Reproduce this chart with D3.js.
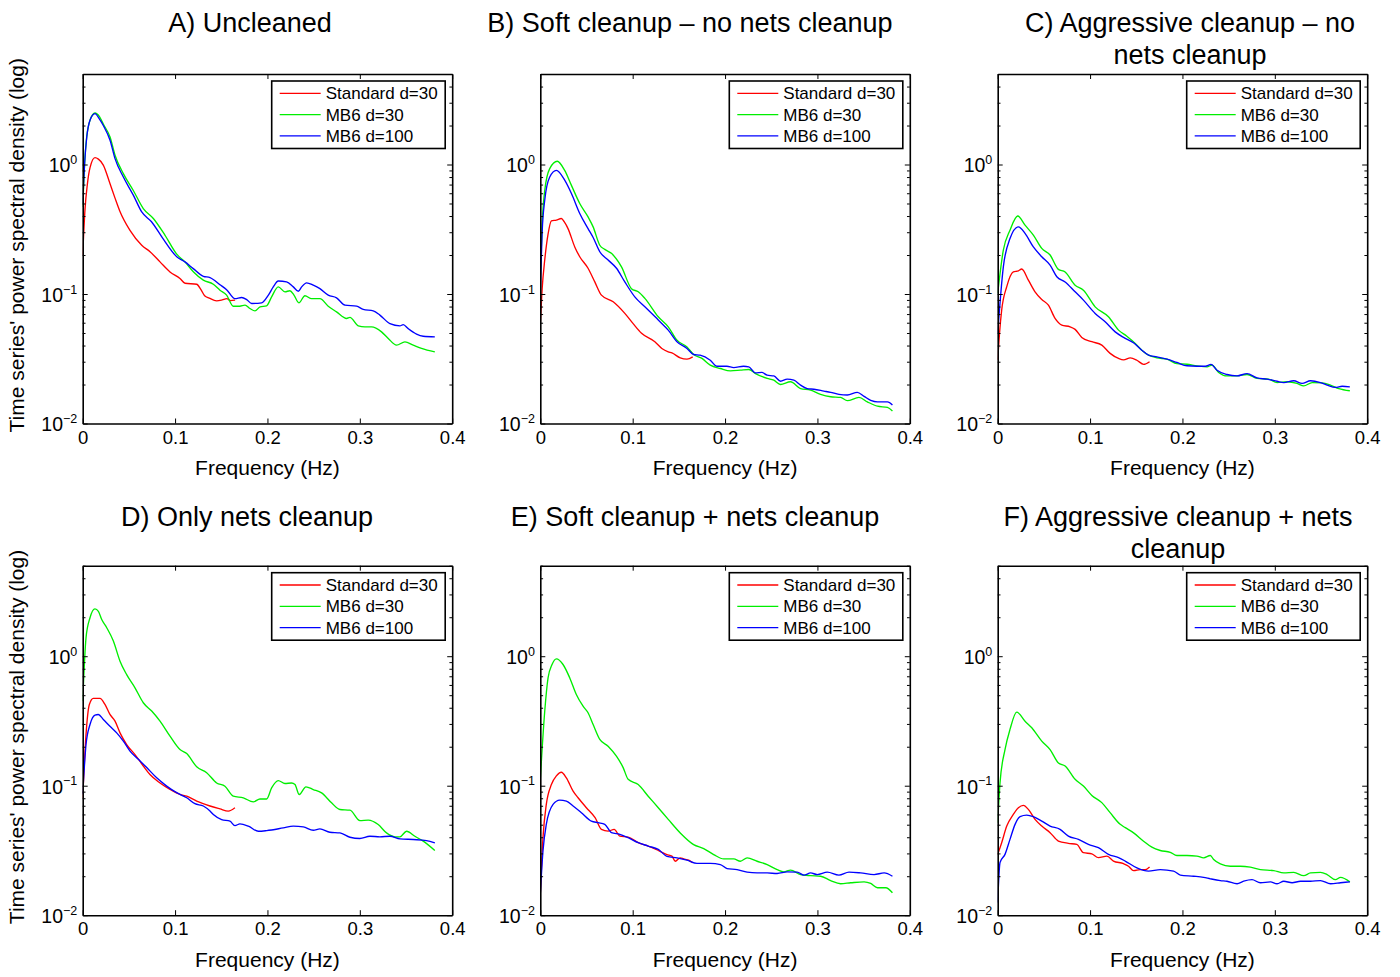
<!DOCTYPE html>
<html><head><meta charset="utf-8">
<script src="https://cdn.jsdelivr.net/npm/d3@7"></script>
<style>
body{margin:0;background:#fff}
svg{display:block}
text{font-family:"Liberation Sans",Arial,Helvetica,sans-serif;fill:#000}
</style>
</head><body>
<svg id="chart" width="1400" height="977"></svg>
<script>
// ---------------- DATA (frequency in Hz, PSD value) ----------------
const seriesNames = ["Standard d=30", "MB6 d=30", "MB6 d=100"];
const panelTitles = [
  ["A) Uncleaned"],
  ["B) Soft cleanup \u2013 no nets cleanup"],
  ["C) Aggressive cleanup \u2013 no", "nets cleanup"],
  ["D) Only nets cleanup"],
  ["E) Soft cleanup + nets cleanup"],
  ["F) Aggressive cleanup + nets", "cleanup"]
];
const xTickValues = [0, 0.1, 0.2, 0.3, 0.4];
const yTickExponents = [-2, -1, 0];
const xLabel = "Frequency (Hz)";
const yLabel = "Time series' power spectral density (log)";

const A_std = [[0,0.2],[0.0025,0.45],[0.005,0.7],[0.008,0.95],[0.0133,1.13],[0.017,1.1],[0.0223,0.99],[0.0296,0.71],[0.035,0.55],[0.04,0.44],[0.0512,0.31],[0.0639,0.238],[0.0729,0.212],[0.0837,0.177],[0.0945,0.148],[0.1053,0.132],[0.1108,0.121],[0.1234,0.119],[0.128,0.108],[0.132,0.097],[0.137,0.093],[0.145,0.0886],[0.151,0.09],[0.156,0.092],[0.16,0.089],[0.165,0.0896]];
const A_mb30 = [[0,0.47],[0.002,1.0],[0.0036,1.45],[0.0079,2.2],[0.0133,2.5],[0.018,2.35],[0.0223,2.05],[0.0296,1.63],[0.035,1.18],[0.044,0.85],[0.0548,0.63],[0.0656,0.457],[0.0765,0.383],[0.089,0.285],[0.1018,0.203],[0.1107,0.177],[0.12,0.148],[0.1306,0.128],[0.1414,0.119],[0.1486,0.107],[0.1558,0.098],[0.163,0.0805],[0.17,0.0805],[0.1757,0.082],[0.181,0.0773],[0.1865,0.074],[0.192,0.0795],[0.199,0.081],[0.2045,0.095],[0.2117,0.1135],[0.219,0.104],[0.2243,0.106],[0.2287,0.098],[0.234,0.0855],[0.2406,0.097],[0.2478,0.092],[0.2568,0.092],[0.2658,0.0805],[0.2748,0.0728],[0.2857,0.0647],[0.2893,0.066],[0.2983,0.0568],[0.3055,0.0557],[0.3127,0.0557],[0.3235,0.051],[0.3308,0.0453],[0.3398,0.0403],[0.3488,0.0427],[0.3578,0.0403],[0.3668,0.038],[0.3812,0.0357]];
const A_mb100 = [[0,0.5],[0.002,1.0],[0.0044,1.63],[0.0079,2.2],[0.0133,2.47],[0.018,2.25],[0.0223,2.0],[0.0296,1.54],[0.035,1.11],[0.044,0.8],[0.0548,0.58],[0.0639,0.43],[0.0747,0.36],[0.0873,0.265],[0.1018,0.194],[0.1107,0.177],[0.1197,0.157],[0.1306,0.137],[0.1378,0.134],[0.1486,0.118],[0.1558,0.108],[0.1648,0.092],[0.172,0.094],[0.1775,0.0906],[0.183,0.0845],[0.1937,0.0855],[0.201,0.098],[0.2063,0.1135],[0.2117,0.126],[0.2207,0.124],[0.228,0.1135],[0.2334,0.105],[0.237,0.1135],[0.2424,0.122],[0.2496,0.117],[0.2568,0.11],[0.2658,0.098],[0.2748,0.0934],[0.2839,0.082],[0.2965,0.0805],[0.3037,0.076],[0.3145,0.074],[0.3217,0.0687],[0.3326,0.059],[0.3434,0.0568],[0.347,0.058],[0.3524,0.054],[0.3614,0.049],[0.3686,0.0472],[0.3812,0.0467]];

const B_std = [[0,0.059],[0.002,0.11],[0.0048,0.183],[0.0084,0.29],[0.012,0.367],[0.0174,0.372],[0.0228,0.383],[0.026,0.36],[0.03,0.32],[0.0373,0.231],[0.0427,0.194],[0.0517,0.158],[0.059,0.124],[0.0662,0.098],[0.0789,0.087],[0.0915,0.0708],[0.1005,0.059],[0.1096,0.0497],[0.124,0.0428],[0.1316,0.038],[0.1385,0.0358],[0.1425,0.0351],[0.1515,0.0321],[0.1588,0.0314],[0.165,0.0327]];
const B_mb30 = [[0,0.135],[0.002,0.35],[0.0048,0.63],[0.0102,0.93],[0.0184,1.06],[0.0264,0.9],[0.0337,0.69],[0.0427,0.5],[0.0517,0.394],[0.0572,0.33],[0.0644,0.238],[0.0698,0.221],[0.077,0.206],[0.0879,0.162],[0.0987,0.11],[0.106,0.104],[0.1132,0.0925],[0.1277,0.0667],[0.1385,0.0558],[0.148,0.044],[0.1588,0.039],[0.166,0.0341],[0.175,0.0318],[0.184,0.0282],[0.195,0.0266],[0.2058,0.0255],[0.2166,0.0258],[0.2257,0.0261],[0.233,0.0243],[0.2456,0.0223],[0.2528,0.0216],[0.26,0.02],[0.2709,0.021],[0.2817,0.0186],[0.2926,0.0181],[0.3034,0.0168],[0.3143,0.0161],[0.3251,0.0159],[0.3324,0.015],[0.345,0.0159],[0.354,0.0147],[0.365,0.0136],[0.3758,0.0133],[0.3812,0.0125]];
const B_mb100 = [[0,0.107],[0.002,0.3],[0.0048,0.53],[0.0102,0.8],[0.0174,0.9],[0.0264,0.757],[0.0337,0.597],[0.0427,0.419],[0.0517,0.32],[0.0572,0.273],[0.0644,0.212],[0.0734,0.183],[0.0825,0.158],[0.0915,0.124],[0.1023,0.095],[0.1132,0.0796],[0.1277,0.063],[0.1385,0.0526],[0.148,0.0428],[0.1588,0.038],[0.166,0.0341],[0.173,0.0337],[0.184,0.0308],[0.191,0.0277],[0.202,0.0277],[0.2094,0.027],[0.22,0.0277],[0.2257,0.0274],[0.233,0.0246],[0.24,0.0248],[0.2456,0.0236],[0.2528,0.0233],[0.26,0.0212],[0.2673,0.022],[0.2745,0.0216],[0.2817,0.0198],[0.289,0.0186],[0.2962,0.0184],[0.307,0.0178],[0.3143,0.0174],[0.3233,0.0168],[0.3324,0.0166],[0.3432,0.0174],[0.3505,0.0162],[0.3577,0.0151],[0.365,0.0147],[0.3758,0.0147],[0.3812,0.0139]];

const C_std = [[0,0.031],[0.002,0.05],[0.0043,0.075],[0.0098,0.114],[0.0169,0.148],[0.0224,0.151],[0.026,0.156],[0.0332,0.128],[0.0404,0.104],[0.0477,0.0908],[0.0549,0.082],[0.0621,0.0648],[0.0694,0.0575],[0.0784,0.0558],[0.0838,0.0533],[0.091,0.0462],[0.1019,0.0428],[0.1127,0.0403],[0.1217,0.0348],[0.1308,0.0318],[0.1363,0.031],[0.1435,0.0321],[0.1507,0.0308],[0.158,0.0286],[0.1644,0.03]];
const C_mb30 = [[0,0.101],[0.0061,0.218],[0.0133,0.311],[0.0217,0.4],[0.0296,0.34],[0.0386,0.285],[0.0477,0.225],[0.0567,0.2],[0.0657,0.155],[0.073,0.148],[0.0838,0.117],[0.0928,0.107],[0.1055,0.0796],[0.1199,0.0667],[0.1308,0.0526],[0.1398,0.0472],[0.1489,0.0415],[0.156,0.0368],[0.1633,0.0337],[0.1724,0.0321],[0.1832,0.0314],[0.194,0.029],[0.2049,0.0287],[0.2157,0.0279],[0.2266,0.0274],[0.232,0.0282],[0.2392,0.0248],[0.2482,0.0233],[0.2591,0.0233],[0.2699,0.0239],[0.2808,0.0223],[0.2934,0.022],[0.3024,0.0207],[0.3133,0.021],[0.3241,0.0204],[0.3313,0.0195],[0.3404,0.0207],[0.3512,0.0206],[0.3602,0.0198],[0.3693,0.0186],[0.3812,0.0179]];
const C_mb100 = [[0,0.0497],[0.0061,0.162],[0.0133,0.268],[0.0224,0.33],[0.0296,0.294],[0.0386,0.231],[0.0477,0.194],[0.0567,0.167],[0.064,0.136],[0.073,0.124],[0.0838,0.104],[0.0928,0.0897],[0.1055,0.0708],[0.1163,0.061],[0.1272,0.051],[0.1362,0.0462],[0.147,0.042],[0.156,0.0368],[0.1633,0.0337],[0.1724,0.0327],[0.1832,0.0314],[0.194,0.0296],[0.2049,0.0279],[0.2157,0.0277],[0.2248,0.0277],[0.2309,0.0286],[0.2374,0.0258],[0.2482,0.0239],[0.2591,0.0233],[0.2699,0.0243],[0.2808,0.0225],[0.2916,0.022],[0.3024,0.0212],[0.3097,0.0207],[0.3205,0.0214],[0.3295,0.0204],[0.3386,0.0214],[0.3494,0.0207],[0.3566,0.0198],[0.3657,0.019],[0.3729,0.0194],[0.3812,0.0192]];

const D_std = [[0,0.08],[0.0036,0.249],[0.0072,0.424],[0.0115,0.472],[0.0187,0.472],[0.0241,0.424],[0.0295,0.355],[0.035,0.315],[0.0404,0.256],[0.0476,0.208],[0.0566,0.174],[0.0656,0.142],[0.0728,0.122],[0.0837,0.105],[0.0945,0.0937],[0.1053,0.0857],[0.1126,0.083],[0.1234,0.076],[0.1378,0.0697],[0.1486,0.0662],[0.1576,0.0636],[0.1648,0.0675]];
const D_mb30 = [[0,0.45],[0.0036,1.39],[0.0079,1.98],[0.0133,2.32],[0.017,2.22],[0.0206,1.92],[0.026,1.66],[0.0332,1.31],[0.0404,0.915],[0.0476,0.72],[0.0566,0.57],[0.0656,0.437],[0.0747,0.377],[0.0837,0.315],[0.0945,0.241],[0.1053,0.19],[0.1126,0.177],[0.1234,0.14],[0.1342,0.126],[0.145,0.105],[0.154,0.099],[0.163,0.083],[0.1739,0.0805],[0.1847,0.075],[0.1919,0.079],[0.1991,0.079],[0.2045,0.0962],[0.2117,0.1096],[0.2189,0.104],[0.2261,0.105],[0.2298,0.102],[0.2344,0.0855],[0.2417,0.098],[0.2496,0.0934],[0.2586,0.088],[0.2694,0.0737],[0.2785,0.0655],[0.2893,0.0647],[0.3001,0.0538],[0.3091,0.0542],[0.3199,0.0501],[0.3289,0.0432],[0.338,0.0403],[0.3434,0.0403],[0.3506,0.0445],[0.3596,0.0407],[0.3686,0.0373],[0.3812,0.0316]];
const D_mb100 = [[0,0.086],[0.0036,0.208],[0.0079,0.297],[0.0133,0.351],[0.0169,0.355],[0.0223,0.325],[0.0295,0.288],[0.0368,0.256],[0.044,0.221],[0.0512,0.185],[0.0602,0.16],[0.0693,0.138],[0.0801,0.115],[0.0909,0.0993],[0.1017,0.0883],[0.1126,0.0807],[0.1215,0.0726],[0.1306,0.0697],[0.1378,0.0637],[0.1414,0.0599],[0.1504,0.0548],[0.1594,0.0532],[0.1648,0.0492],[0.1702,0.0507],[0.1793,0.0487],[0.1901,0.0445],[0.1991,0.045],[0.2171,0.0472],[0.228,0.0487],[0.2388,0.0481],[0.2496,0.0453],[0.2568,0.0464],[0.2676,0.0437],[0.2785,0.0432],[0.2893,0.04],[0.3001,0.0391],[0.3109,0.0407],[0.3217,0.0403],[0.3326,0.0407],[0.3434,0.0389],[0.3578,0.0384],[0.3722,0.0377],[0.3812,0.0362]];

const E_std = [[0,0.0145],[0.0029,0.0397],[0.0065,0.0717],[0.012,0.102],[0.0174,0.119],[0.0228,0.127],[0.0282,0.115],[0.0355,0.0908],[0.0409,0.0807],[0.0499,0.0676],[0.0593,0.0566],[0.0662,0.046],[0.0734,0.0446],[0.08,0.046],[0.0861,0.0408],[0.0951,0.0401],[0.106,0.0363],[0.1168,0.0342],[0.1277,0.0316],[0.1371,0.0294],[0.1425,0.0286],[0.1461,0.0261],[0.1515,0.0277],[0.1552,0.0272],[0.1606,0.0266],[0.165,0.0254]];
const E_mb30 = [[0,0.112],[0.0048,0.376],[0.0084,0.68],[0.0127,0.863],[0.0174,0.955],[0.0246,0.863],[0.0319,0.68],[0.039,0.506],[0.0463,0.411],[0.0517,0.366],[0.0572,0.297],[0.0644,0.228],[0.0734,0.202],[0.0824,0.169],[0.0897,0.138],[0.0951,0.112],[0.106,0.102],[0.1168,0.083],[0.1277,0.0676],[0.1385,0.055],[0.1515,0.0432],[0.166,0.0351],[0.1769,0.0327],[0.1877,0.0294],[0.1986,0.0272],[0.2094,0.0272],[0.2166,0.0261],[0.2239,0.0277],[0.2347,0.0261],[0.2456,0.0246],[0.2564,0.0225],[0.2637,0.0216],[0.2709,0.0223],[0.2817,0.0206],[0.2926,0.0202],[0.3034,0.02],[0.3143,0.0185],[0.3251,0.0175],[0.336,0.0178],[0.3505,0.0181],[0.3577,0.0176],[0.365,0.0163],[0.374,0.0163],[0.3812,0.0149]];
const E_mb100 = [[0,0.0145],[0.0029,0.0313],[0.0065,0.0503],[0.0138,0.0717],[0.021,0.0774],[0.0282,0.076],[0.0355,0.0697],[0.0445,0.0619],[0.0553,0.0533],[0.0626,0.0518],[0.0698,0.0503],[0.077,0.0434],[0.0861,0.0421],[0.0951,0.0397],[0.106,0.0363],[0.1168,0.0342],[0.1277,0.0322],[0.1371,0.0285],[0.148,0.0277],[0.1588,0.0266],[0.1696,0.0251],[0.1841,0.0251],[0.1949,0.0246],[0.2022,0.0229],[0.213,0.0225],[0.2239,0.0215],[0.2347,0.0212],[0.2456,0.0212],[0.2564,0.021],[0.2673,0.0216],[0.2781,0.0215],[0.2854,0.0204],[0.2926,0.0212],[0.2998,0.0206],[0.3107,0.0215],[0.3233,0.0204],[0.3342,0.0215],[0.3468,0.0212],[0.3613,0.0206],[0.3722,0.0212],[0.3812,0.02]];

const F_std = [[0,0.0295],[0.0043,0.0363],[0.0098,0.0488],[0.0169,0.0601],[0.0224,0.0676],[0.0278,0.0705],[0.0332,0.0656],[0.0404,0.055],[0.0477,0.0488],[0.0567,0.0434],[0.0657,0.0374],[0.0765,0.0359],[0.0856,0.0352],[0.0928,0.0304],[0.1019,0.0298],[0.109,0.0278],[0.1182,0.0286],[0.1253,0.0262],[0.1362,0.025],[0.1416,0.0239],[0.1471,0.0221],[0.1543,0.0225],[0.1597,0.0225],[0.1644,0.0236]];
const F_mb30 = [[0,0.0518],[0.0025,0.105],[0.0079,0.19],[0.0133,0.272],[0.0206,0.37],[0.0296,0.315],[0.0369,0.28],[0.0477,0.221],[0.0567,0.19],[0.0657,0.15],[0.073,0.142],[0.0838,0.112],[0.0928,0.0993],[0.1019,0.0841],[0.1127,0.074],[0.1217,0.0619],[0.1326,0.0503],[0.1381,0.0474],[0.1471,0.0432],[0.1579,0.0373],[0.1669,0.0335],[0.176,0.0316],[0.1868,0.0306],[0.194,0.0289],[0.2049,0.0289],[0.2157,0.0286],[0.2229,0.0277],[0.2302,0.0289],[0.2338,0.0269],[0.241,0.0249],[0.2519,0.0239],[0.2627,0.0239],[0.2735,0.0235],[0.2844,0.0225],[0.2988,0.0221],[0.3097,0.0212],[0.3205,0.0214],[0.3313,0.0202],[0.3386,0.0212],[0.3494,0.0214],[0.3566,0.0206],[0.3657,0.0188],[0.3711,0.0196],[0.3812,0.0181]];
const F_mb100 = [[0,0.0125],[0.0025,0.0255],[0.0079,0.0295],[0.0133,0.0385],[0.0188,0.0503],[0.0242,0.0577],[0.0314,0.0593],[0.0386,0.0577],[0.0477,0.0533],[0.0567,0.0488],[0.0675,0.046],[0.0765,0.0408],[0.0874,0.0385],[0.0982,0.0352],[0.109,0.0332],[0.1199,0.0295],[0.1308,0.0278],[0.138,0.0262],[0.1507,0.0232],[0.1633,0.0219],[0.176,0.0225],[0.1904,0.0219],[0.1977,0.0204],[0.2121,0.02],[0.2229,0.0196],[0.2302,0.0191],[0.241,0.0185],[0.2482,0.0183],[0.2591,0.0175],[0.2663,0.0183],[0.2753,0.0188],[0.2844,0.0178],[0.2952,0.0181],[0.3024,0.0175],[0.3097,0.0183],[0.3187,0.0178],[0.3277,0.0183],[0.3386,0.0183],[0.3494,0.0185],[0.3603,0.0175],[0.3711,0.0178],[0.3812,0.0181]];

const panelSeries = [
  [A_std, A_mb30, A_mb100],
  [B_std, B_mb30, B_mb100],
  [C_std, C_mb30, C_mb100],
  [D_std, D_mb30, D_mb100],
  [E_std, E_mb30, E_mb100],
  [F_std, F_mb30, F_mb100]
];

// ---------------- LAYOUT / STYLE ----------------
const seriesColors = ["#ff0000", "#00ee00", "#0000ff"];
const colX = [82.7, 540.3, 997.7];
const rowY = [74, 565.7];
const W = 369.5, H = 349.5;
const titleCx = [250, 690, 1190, 247, 695, 1178];
const titleBase = [32, 526];
const FONT_TICK = 18.5, FONT_EXP = 19.5, FONT_SUP = 12.5;

const svg = d3.select("#chart");

panelSeries.forEach((series, i) => {
  const col = i % 3, row = Math.floor(i / 3);
  const g = svg.append("g").attr("transform", `translate(${colX[col]},${rowY[row]})`);

  const x = d3.scaleLinear().domain([0, 0.4]).range([0, W]);
  const y = d3.scaleLog().domain([0.01, 5]).range([H, 0]);

  const clipId = "clip" + i;
  g.append("clipPath").attr("id", clipId).append("rect").attr("width", W).attr("height", H);

  const line = d3.line().x(d => x(d[0])).y(d => y(d[1])).curve(d3.curveMonotoneX);
  const lg = g.append("g").attr("clip-path", `url(#${clipId})`);
  series.forEach((s, k) => {
    lg.append("path").datum(s).attr("d", line)
      .attr("fill", "none").attr("stroke", seriesColors[k]).attr("stroke-width", 1.35)
      .attr("stroke-linejoin", "round");
  });

  const minor = [];
  yTickExponents.forEach(e => { for (let m = 2; m <= 9; m++) { const v = m * Math.pow(10, e); if (v <= 5) minor.push(v); } });
  const major = yTickExponents.map(e => Math.pow(10, e));

  const styleAxis = (sel) => {
    sel.select(".domain").attr("stroke", "#000").attr("stroke-width", 1.6);
    sel.selectAll(".tick line").attr("stroke", "#000").attr("stroke-width", 1);
  };

  g.append("g").attr("transform", `translate(0,${H})`)
    .call(d3.axisBottom(x).tickValues(xTickValues).tickSizeInner(-5).tickSizeOuter(0).tickPadding(7)
      .tickFormat(d => String(d)))
    .call(styleAxis)
    .call(a => a.selectAll("text").attr("font-size", FONT_TICK).attr("font-family", null).attr("fill", "#000"));
  g.append("g")
    .call(d3.axisTop(x).tickValues(xTickValues).tickSizeInner(-5).tickSizeOuter(0).tickFormat(""))
    .call(styleAxis);
  const leftMajor = g.append("g")
    .call(d3.axisLeft(y).tickValues(major).tickSizeInner(-5).tickSizeOuter(0).tickFormat(""))
    .call(styleAxis);
  g.append("g")
    .call(d3.axisLeft(y).tickValues(minor).tickSizeInner(-2.8).tickSizeOuter(0).tickFormat(""))
    .call(a => a.select(".domain").remove())
    .call(a => a.selectAll(".tick line").attr("stroke", "#000").attr("stroke-width", 1));
  g.append("g").attr("transform", `translate(${W},0)`)
    .call(d3.axisRight(y).tickValues(major).tickSizeInner(-5).tickSizeOuter(0).tickFormat(""))
    .call(styleAxis);
  g.append("g").attr("transform", `translate(${W},0)`)
    .call(d3.axisRight(y).tickValues(minor).tickSizeInner(-2.8).tickSizeOuter(0).tickFormat(""))
    .call(a => a.select(".domain").remove())
    .call(a => a.selectAll(".tick line").attr("stroke", "#000").attr("stroke-width", 1));

  leftMajor.selectAll(".tick").each(function(d) {
    const e = Math.round(Math.log10(d));
    const t = d3.select(this).append("text")
      .attr("x", -5.4).attr("y", 7.4).attr("text-anchor", "end")
      .attr("font-size", FONT_EXP).attr("fill", "#000");
    t.append("tspan").text("10");
    t.append("tspan").attr("dy", -8.4).attr("font-size", FONT_SUP)
      .text(e < 0 ? "\u2212" + Math.abs(e) : String(e));
  });

  g.append("text").attr("x", W / 2).attr("y", H + 51.5).attr("text-anchor", "middle")
    .attr("font-size", 21).text(xLabel);

  if (col === 0) {
    g.append("text")
      .attr("transform", `translate(${24.5 - colX[col]},${H / 2 - 3.5}) rotate(-90)`)
      .attr("text-anchor", "middle").attr("font-size", 21).text(yLabel);
  }

  panelTitles[i].forEach((ln, j) => {
    svg.append("text").attr("x", titleCx[i]).attr("y", titleBase[row] + j * 32)
      .attr("text-anchor", "middle").attr("font-size", 27).text(ln);
  });

  const lw = 173.5, lh = 67.5;
  const lgd = g.append("g").attr("transform", `translate(${W - 7 - lw},7)`);
  lgd.append("rect").attr("width", lw).attr("height", lh).attr("fill", "#fff")
    .attr("stroke", "#000").attr("stroke-width", 1.6);
  seriesNames.forEach((nm, k) => {
    const cy = 12.3 + k * 21.3;
    lgd.append("line").attr("x1", 8).attr("x2", 49).attr("y1", cy).attr("y2", cy)
      .attr("stroke", seriesColors[k]).attr("stroke-width", 1.35);
    lgd.append("text").attr("x", 54).attr("y", cy + 6).attr("font-size", 17).text(nm);
  });
});
</script>
</body></html>
